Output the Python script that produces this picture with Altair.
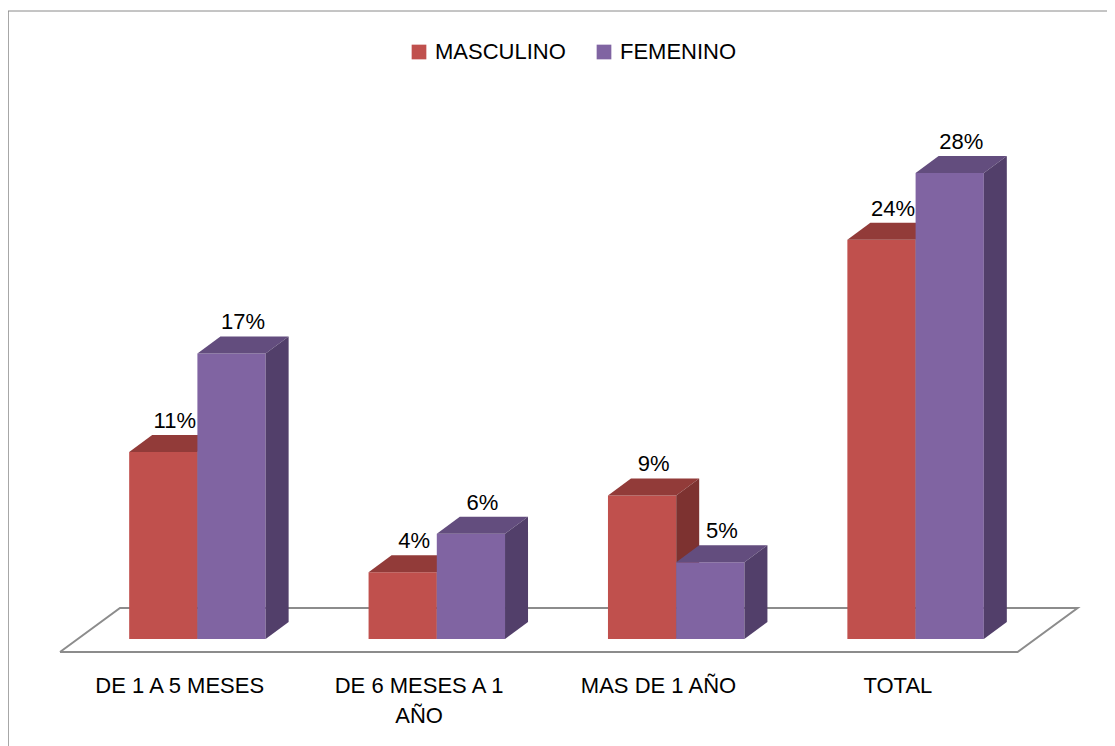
import altair as alt
import pandas as pd

# ---------------- data ----------------
categories = ["DE 1 A 5 MESES", "DE 6 MESES A 1 AÑO", "MAS DE 1 AÑO", "TOTAL"]
tick_labels = ["DE 1 A 5 MESES", "DE 6 MESES A 1\nAÑO", "MAS DE 1 AÑO", "TOTAL"]
series = ["MASCULINO", "FEMENINO"]
masculino = [11.2, 4.0, 8.6, 23.9]
femenino = [17.1, 6.3, 4.6, 27.9]

front_colors = ["#C0504D", "#8064A2"]
top_colors = ["#923B39", "#634D7E"]
side_colors = ["#7D3230", "#523F6A"]

FONT = "Liberation Sans"

# ---------------- layout constants (pixels) ----------------
W, H = 1099, 735
PX_CAT = 239.4          # pixels per category (floor front)
PX_PCT = 16.7           # pixels per percentage point
ORIGIN_X = 52           # plot left -> floor front-left corner
BASE_Y = 628            # plot top -> bar baseline
DEPTH_DX, DEPTH_DY = 23, 17       # bar depth
FLOOR_DX, FLOOR_DY = 60, 44       # floor depth
GAP_DX, GAP_DY = 17.7, 13         # floor front edge -> bar front face
BAR_W = 0.285                     # bar width in category units

dc = DEPTH_DX / PX_CAT
dv = DEPTH_DY / PX_PCT
gx = GAP_DX / PX_CAT
gy = GAP_DY / PX_PCT

xs = alt.Scale(domain=[-ORIGIN_X / PX_CAT, (W - ORIGIN_X) / PX_CAT], nice=False, zero=False)
ys = alt.Scale(domain=[-(H - BASE_Y) / PX_PCT, BASE_Y / PX_PCT], nice=False, zero=False)

values = {"MASCULINO": masculino, "FEMENINO": femenino}

front_rows, top_rows, side_rows, label_rows = [], [], [], []
for si, s in enumerate(series):
    for ci, c in enumerate(categories):
        v = values[s][ci]
        x0 = ci + 0.5 - BAR_W + si * BAR_W + gx
        x1 = x0 + BAR_W
        bid = f"{s}-{ci}"
        front_rows.append({"series": s, "cat": c, "x0": x0, "x1": x1, "base": 0.0, "v": v})
        for x, lo, hi in [(x0, v, v), (x0 + dc, v, v + dv), (x1, v, v + dv), (x1 + dc, v + dv, v + dv)]:
            top_rows.append({"series": s, "bar": bid, "x": x, "lo": lo, "hi": hi})
        for x, lo, hi in [(x1, 0.0, v), (x1 + dc, dv, v + dv)]:
            side_rows.append({"series": s, "bar": bid, "x": x, "lo": lo, "hi": hi})
        label_rows.append({"series": s, "x": (x0 + x1) / 2 + dc / 2, "y": v + dv, "frac": v / 100})

front_df = pd.DataFrame(front_rows)
top_df = pd.DataFrame(top_rows)
side_df = pd.DataFrame(side_rows)
label_df = pd.DataFrame(label_rows)

yf = -gy
yb = -gy + FLOOR_DY / PX_PCT
fdx = FLOOR_DX / PX_CAT
n = len(categories)
floor_df = pd.DataFrame({
    "x": [0, n, n + fdx, fdx, 0],
    "y": [yf, yf, yb, yb, yf],
    "o": [0, 1, 2, 3, 4],
})

tick_df = pd.DataFrame({"x": [i + 0.5 for i in range(n)], "y": [-3.25] * n, "t": tick_labels})

layers = []

floor = alt.Chart(floor_df).mark_line(color="#8C8C8C", strokeWidth=2).encode(
    x=alt.X("x:Q", scale=xs, axis=None),
    y=alt.Y("y:Q", scale=ys, axis=None),
    order="o:Q",
)
layers.append(floor)

color_enc = alt.Color(
    "series:N",
    scale=alt.Scale(domain=series, range=front_colors),
    legend=alt.Legend(
        title=None,
        orient="none",
        legendX=400,
        legendY=30,
        direction="horizontal",
        symbolType="square",
        symbolSize=216,
        symbolStrokeWidth=0,
        symbolOpacity=1,
        labelFont=FONT,
        labelFontSize=22,
        labelColor="#000000",
        labelOffset=5,
        columnPadding=27,
        padding=0,
    ),
)

for si, s in enumerate(series):
    front = alt.Chart(front_df[front_df.series == s]).mark_rect().encode(
        x=alt.X("x0:Q", scale=xs, axis=None),
        x2="x1:Q",
        y=alt.Y("base:Q", scale=ys, axis=None),
        y2="v:Q",
        color=color_enc,
    )
    top = alt.Chart(top_df[top_df.series == s]).mark_area(color=top_colors[si], opacity=1).encode(
        x=alt.X("x:Q", scale=xs, axis=None),
        y=alt.Y("lo:Q", scale=ys, axis=None, stack=None),
        y2="hi:Q",
        detail="bar:N",
    )
    side = alt.Chart(side_df[side_df.series == s]).mark_area(color=side_colors[si], opacity=1).encode(
        x=alt.X("x:Q", scale=xs, axis=None),
        y=alt.Y("lo:Q", scale=ys, axis=None, stack=None),
        y2="hi:Q",
        detail="bar:N",
    )
    layers += [front, top, side]

labels = alt.Chart(label_df).mark_text(
    font=FONT, fontSize=22, color="#000000", baseline="alphabetic", align="center", dy=-7
).encode(
    x=alt.X("x:Q", scale=xs, axis=None),
    y=alt.Y("y:Q", scale=ys, axis=None),
    text=alt.Text("frac:Q", format=".0%"),
)
layers.append(labels)

ticks = alt.Chart(tick_df).mark_text(
    font=FONT, fontSize=22, color="#000000", baseline="alphabetic", align="center",
    lineBreak="\n", lineHeight=30,
).encode(
    x=alt.X("x:Q", scale=xs, axis=None),
    y=alt.Y("y:Q", scale=ys, axis=None),
    text="t:N",
)
layers.append(ticks)

one = pd.DataFrame({"a": [0]})
border_left = alt.Chart(one).mark_rule(color="#8A8A8A", strokeWidth=1.5).encode(
    x=alt.value(0), y=alt.value(0), y2=alt.value(H)
)
border_top = alt.Chart(one).mark_rule(color="#8A8A8A", strokeWidth=1).encode(
    x=alt.value(0), x2=alt.value(W), y=alt.value(0)
)
layers += [border_left, border_top]

chart = alt.layer(*layers).properties(
    width=W,
    height=H,
    autosize=alt.AutoSizeParams(type="none"),
    padding={"left": 0, "top": 3, "right": 0, "bottom": 0},
    background="#FFFFFF",
).configure_view(stroke=None)

chart.save("out.html", embed_options={"renderer": "svg", "actions": False})
